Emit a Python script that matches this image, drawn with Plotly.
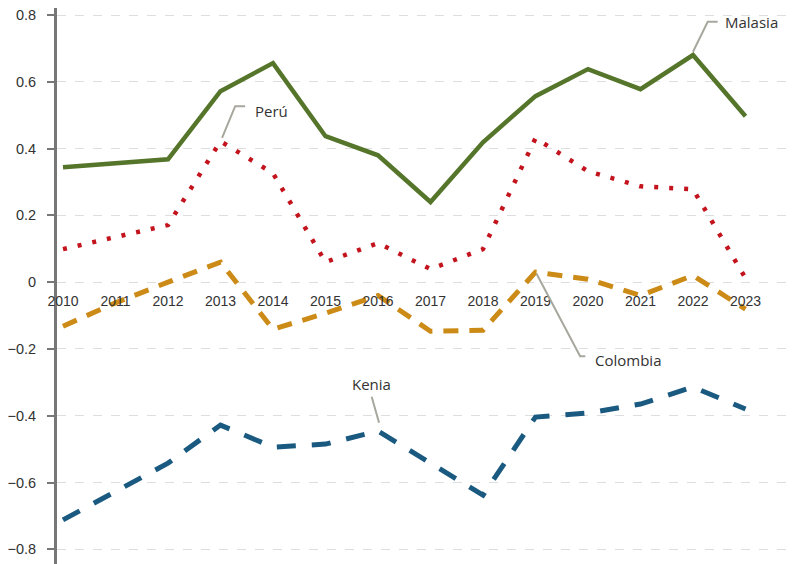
import plotly.graph_objects as go

years = list(range(2010, 2024))
malasia = [0.344, 0.356, 0.368, 0.572, 0.656, 0.437, 0.380, 0.240, 0.419, 0.557, 0.638, 0.578, 0.680, 0.497]
peru = [0.099, 0.135, 0.171, 0.422, 0.326, 0.060, 0.117, 0.039, 0.099, 0.431, 0.332, 0.287, 0.278, 0.012]
colombia = [-0.132, -0.062, 0.0, 0.060, -0.141, -0.093, -0.040, -0.147, -0.144, 0.030, 0.009, -0.040, 0.020, -0.081]
kenia = [-0.712, -0.627, -0.542, -0.428, -0.494, -0.485, -0.446, -0.542, -0.638, -0.404, -0.392, -0.365, -0.314, -0.380]
y_ticks = [0.8, 0.6, 0.4, 0.2, 0, -0.2, -0.4, -0.6, -0.8]

COL_MAL = "#55752b"
COL_PER = "#c3141e"
COL_COL = "#cc8a16"
COL_KEN = "#1b5a80"
LEADER = "#a8a79e"
FONT = "Liberation Sans, Arial, sans-serif"
AFONT = "Open Sans, Liberation Sans, sans-serif"

y_min, y_max = -0.868, 0.821
zero_pos = (0 - y_min) / (y_max - y_min)

fig = go.Figure()
fig.add_trace(go.Scatter(x=years, y=malasia, mode="lines", name="Malasia",
                         line=dict(color=COL_MAL, width=4.5)))
fig.add_trace(go.Scatter(x=years, y=peru, mode="lines", name="Perú",
                         line=dict(color=COL_PER, width=4.5, dash="4px,11px")))
fig.add_trace(go.Scatter(x=years, y=colombia, mode="lines", name="Colombia",
                         line=dict(color=COL_COL, width=5, dash="15px,11px")))
fig.add_trace(go.Scatter(x=years, y=kenia, mode="lines", name="Kenia",
                         line=dict(color=COL_KEN, width=5, dash="19px,16px")))

def idx(yr):
    return years.index(yr)

shapes = []
annotations = []

def leader(x0, y0, x1, y1, x2=None):
    path = f"M {x0},{y0} L {x1},{y1}"
    if x2 is not None:
        path += f" L {x2},{y1}"
    shapes.append(dict(type="path", path=path, xref="x", yref="y",
                       line=dict(color=LEADER, width=2)))

def label(x, y, text, anchor="left"):
    annotations.append(dict(x=x, y=y, xref="x", yref="y", text=text,
                            showarrow=False, xanchor=anchor, yanchor="middle",
                            font=dict(family=AFONT, size=15, color="#333")))

# Malasia
mx, my = 2022, malasia[idx(2022)]
leader(mx + 0.0, my + 0.01, mx + 0.28, my + 0.10, mx + 0.47)
label(mx + 0.57, my + 0.10, "Malasia")
# Perú
px_, py_ = 2013, peru[idx(2013)]
leader(px_ + 0.03, py_ + 0.01, px_ + 0.28, py_ + 0.105, px_ + 0.47)
label(px_ + 0.62, py_ + 0.09, "Perú")
# Colombia
cx, cy = 2019, colombia[idx(2019)]
leader(cx + 0.02, cy - 0.005, cx + 0.85, cy - 0.252, cx + 0.95)
label(cx + 1.1, cy - 0.262, "Colombia")
# Kenia
kx, ky = 2016, kenia[idx(2016)]
leader(kx + 0.02, ky + 0.025, kx - 0.12, ky + 0.103)
label(kx - 0.13, ky + 0.14, "Kenia", anchor="center")

fig.update_layout(
    width=795, height=564,
    margin=dict(l=49, r=0, t=0, b=0, autoexpand=False),
    paper_bgcolor="white", plot_bgcolor="white",
    showlegend=False,
    shapes=shapes,
    annotations=annotations,
    xaxis=dict(
        range=[2009.886, 2024.095],
        tickvals=years, ticktext=[str(y) for y in years],
        showgrid=False, zeroline=False, showline=False,
        anchor="free", position=zero_pos, automargin=False,
        ticks="outside", ticklen=6, tickcolor="rgba(0,0,0,0)",
        ticklabeloverflow="allow",
        tickfont=dict(family=FONT, size=14, color="#333"),
    ),
    yaxis=dict(
        range=[y_min, y_max],
        tickvals=y_ticks, automargin=False,
        showgrid=True, gridcolor="#dedede", griddash="dash", gridwidth=1,
        zeroline=False,
        showline=True, linecolor="#777", linewidth=3,
        ticks="outside", ticklen=7, tickcolor="#777", tickwidth=2,
        ticklabelstandoff=8, ticklabeloverflow="allow",
        tickfont=dict(family=FONT, size=14.5, color="#333"),
    ),
)

fig.write_html("out.html")
